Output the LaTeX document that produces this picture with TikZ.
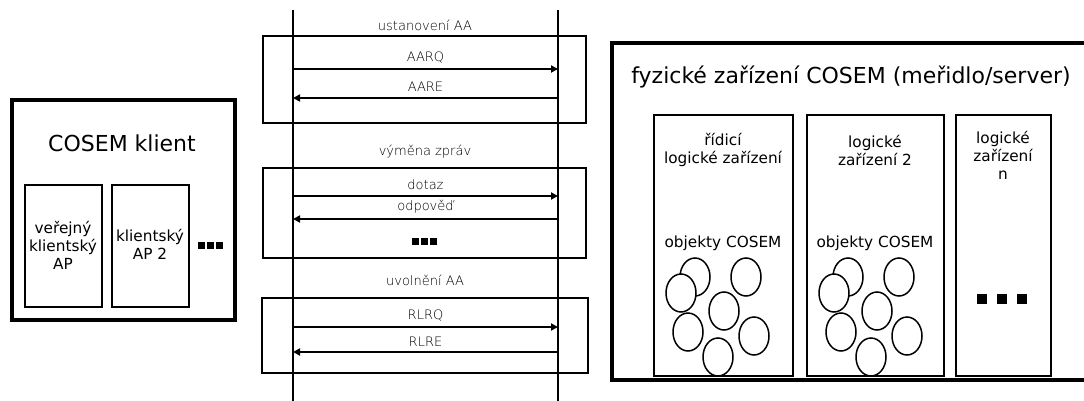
\documentclass[tikz,border=0pt]{standalone}
\usepackage{fontspec}
\setmainfont{DejaVu Sans}
\newfontfamily\thinfont{DejaVu Sans ExtraLight}
\usetikzlibrary{arrows.meta}

\tikzset{
  outerbox/.style={draw,line width=4pt},
  innerbox/.style={draw,line width=2pt},
  phasebox/.style={draw,line width=2pt},
  lifeline/.style={line width=2pt},
  msg/.style={line width=2pt,-{Triangle[length=7pt,width=7pt]}},
  msglabel/.style={font=\thinfont\fontsize{13}{15}\selectfont,inner sep=0pt},
  titlelabel/.style={font=\fontsize{22}{26}\selectfont,inner sep=0pt},
  boxlabel/.style={font=\fontsize{15.3}{18}\selectfont,align=center,inner sep=0pt},
  cosemobj/.style={draw,fill=white,line width=1.5pt}
}

\begin{document}
\begin{tikzpicture}[x=1pt,y=-1pt]
  \useasboundingbox (0,0) rectangle (1084,401);
  \clip (0,0) rectangle (1084,401);

  % klient
  \draw[outerbox] (12,100) rectangle (235,320);
  \node[titlelabel] (klient) at (122,143) {COSEM klient};
  \draw[innerbox] (25,185) rectangle (102,307);
  \draw[innerbox] (112,185) rectangle (189,307);
  \node[boxlabel] (verejny) at (63,245) {veřejný\\klientský\\AP};
  \node[boxlabel] (ap2) at (150,244) {klientský\\AP 2};
  \foreach \x in {198,207,216}
    \fill (\x,242) rectangle +(7,7);

  % zivotni cary
  \coordinate (kl) at (293,10);
  \coordinate (sv) at (558,10);
  \draw[lifeline] (kl) -- (293,401);
  \draw[lifeline] (sv) -- (558,401);

  % ustanoveni
  \draw[phasebox] (263,36) rectangle (586,123);
  \node[msglabel] (ust) at (425,25) {ustanovení AA};
  \coordinate (aarq) at (0,69);
  \coordinate (aare) at (0,98);
  \draw[msg] (kl |- aarq) -- node[msglabel,above=5pt] {AARQ} (sv |- aarq);
  \draw[msg] (sv |- aare) -- node[msglabel,above=5pt] {AARE} (kl |- aare);

  % vymena
  \draw[phasebox] (263,168) rectangle (586,258);
  \node[msglabel] (vym) at (425,152) {výměna zpráv};
  \coordinate (dotaz) at (0,196);
  \coordinate (odp) at (0,219);
  \draw[msg] (kl |- dotaz) -- node[msglabel,above=5pt] {dotaz} (sv |- dotaz);
  \draw[msg] (sv |- odp) -- node[msglabel,above=5pt] {odpověď} (kl |- odp);
  \foreach \x in {412,421,430}
    \fill (\x,238) rectangle +(7,7);

  % uvolneni
  \draw[phasebox] (262,298) rectangle (588,373);
  \node[msglabel] (uvo) at (425,280) {uvolnění AA};
  \coordinate (rlrq) at (0,327);
  \coordinate (rlre) at (0,352);
  \draw[msg] (kl |- rlrq) -- node[msglabel,above=5pt] {RLRQ} (sv |- rlrq);
  \draw[msg] (sv |- rlre) -- node[msglabel,above=5pt] {RLRE} (kl |- rlre);

  % server
  \draw[outerbox] (612,43) rectangle (1100,380);
  \node[titlelabel] (server) at (851,77) {fyzické zařízení COSEM (meřidlo/server)};
  \draw[innerbox] (654,115) rectangle (793,376);
  \draw[innerbox] (807,115) rectangle (944,376);
  \draw[innerbox] (956,115) rectangle (1051,376);
  \node[boxlabel] (ridici) at (723,150) {řídicí\\logické zařízení};
  \node[boxlabel] (ld2) at (875,150) {logické\\zařízení 2};
  \node[boxlabel] (ldn) at (1003,155) {logické\\zařízení\\n};
  \node[boxlabel] (obj1) at (723,243) {objekty COSEM};
  \node[boxlabel] (obj2) at (875,243) {objekty COSEM};
  \foreach \dx in {0,153} {
    \foreach \cx/\cy in {695/277,681/293,746/277,724/311,688/332,754/336,718/357}
      \draw[cosemobj] (\cx+\dx,\cy) ellipse[x radius=15,y radius=19];
  }
  \foreach \x in {977,997,1017}
    \fill (\x,294) rectangle +(10,10);
\end{tikzpicture}
\end{document}
